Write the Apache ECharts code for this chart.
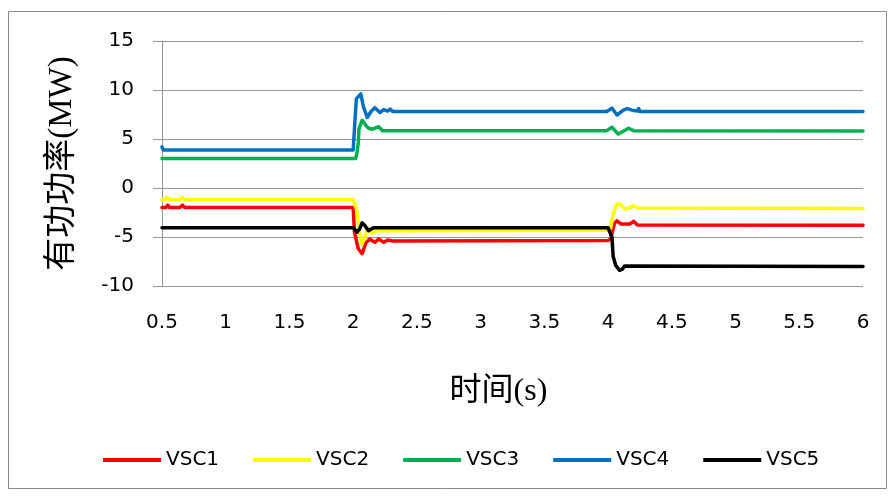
<!DOCTYPE html>
<html>
<head>
<meta charset="utf-8">
<script src="https://cdn.jsdelivr.net/npm/echarts@6/dist/echarts.min.js"></script>
<style>
  html, body { margin: 0; padding: 0; background: #fff; }
  #chart { width: 895px; height: 496px; }
</style>
</head>
<body>
<div id="chart"></div>
<script>
// Active power of five converter stations, [time (s), power (MW)]
const seriesNames = ['VSC1', 'VSC2', 'VSC3', 'VSC4', 'VSC5'];
const seriesColors = ['#FF0000', '#FFFF00', '#00B050', '#0070C0', '#000000'];

const vsc1 = [
  [0.5, -2.0], [0.53, -2.0], [0.545, -1.75], [0.56, -2.0], [0.64, -2.0], [0.66, -1.75], [0.68, -2.0],
  [2.0, -2.0], [2.01, -4.5], [2.04, -6.2], [2.07, -6.7], [2.1, -5.6], [2.13, -5.2],
  [2.17, -5.55], [2.2, -5.2], [2.24, -5.55], [2.27, -5.3], [2.31, -5.4],
  [4.0, -5.35], [4.02, -5.2], [4.05, -3.6], [4.07, -3.35], [4.1, -3.67], [4.17, -3.67],
  [4.2, -3.4], [4.23, -3.78], [6.0, -3.8]
];
const vsc2 = [
  [0.5, -1.2], [0.525, -1.2], [0.54, -0.95], [0.56, -1.2], [0.64, -1.2], [0.66, -0.95], [0.68, -1.2],
  [2.0, -1.2], [2.01, -1.3], [2.03, -2.3], [2.05, -4.6], [2.07, -5.7], [2.09, -5.0],
  [2.11, -4.35], [2.15, -4.6], [2.18, -4.35], [4.0, -4.3], [4.02, -4.1], [4.04, -2.65],
  [4.07, -1.63], [4.1, -1.7], [4.13, -2.15], [4.17, -2.0], [4.2, -1.8], [4.23, -2.05], [6.0, -2.08]
];
const vsc3 = [
  [0.5, 3.0], [2.02, 3.0], [2.03, 3.6], [2.04, 4.6], [2.045, 6.0], [2.07, 6.9],
  [2.1, 6.4], [2.12, 6.1], [2.15, 6.0], [2.2, 6.25], [2.23, 5.85], [3.99, 5.85],
  [4.03, 6.2], [4.08, 5.5], [4.12, 5.8], [4.16, 6.1], [4.2, 5.85], [6.0, 5.82]
];
const vsc4 = [
  [0.5, 4.2], [0.51, 3.88], [2.0, 3.88], [2.005, 5.0], [2.02, 5.0], [2.025, 9.1],
  [2.06, 9.6], [2.08, 8.3], [2.11, 7.2], [2.14, 7.8], [2.17, 8.2], [2.21, 7.7],
  [2.24, 8.0], [2.27, 7.85], [2.29, 8.05], [2.31, 7.8], [3.99, 7.8], [4.03, 8.15],
  [4.07, 7.45], [4.12, 7.95], [4.15, 8.1], [4.2, 7.9], [4.23, 7.85], [4.24, 8.1],
  [4.25, 7.8], [6.0, 7.8]
];
const vsc5 = [
  [0.5, -4.05], [2.0, -4.05], [2.03, -4.5], [2.05, -4.2], [2.07, -3.55], [2.09, -3.8],
  [2.12, -4.35], [2.16, -4.05], [4.0, -4.05], [4.01, -4.4], [4.03, -5.0], [4.04, -7.0],
  [4.06, -7.9], [4.09, -8.4], [4.11, -8.3], [4.13, -7.95], [6.0, -8.0]
];
const seriesData = [vsc1, vsc2, vsc3, vsc4, vsc5];

// Axis ranges
const xMin = 0.5, xMax = 6, xStep = 0.5;
const yMin = -10, yMax = 15, yStep = 5;

const labelFont = "'DejaVu Sans', sans-serif";
const titleFont = "'Liberation Serif', 'Noto Sans CJK SC', serif";
const gridGray = '#979797';

const chart = echarts.init(document.getElementById('chart'), null, { renderer: 'canvas' });

chart.setOption({
  animation: false,
  backgroundColor: '#ffffff',
  grid: { left: 162, right: 32, top: 41, bottom: 210, containLabel: false },
  xAxis: {
    type: 'value',
    min: xMin, max: xMax, interval: xStep,
    name: '时间(s)',
    nameLocation: 'middle',
    nameGap: 90,
    nameTextStyle: { fontFamily: titleFont, fontSize: 32, color: '#000', padding: [0, 28, 0, 0] },
    axisLine: { show: true, lineStyle: { color: gridGray, width: 1 } },
    axisTick: { show: false },
    splitLine: { show: false },
    axisLabel: { fontFamily: labelFont, fontSize: 20, color: '#000', margin: 27 }
  },
  yAxis: {
    type: 'value',
    min: yMin, max: yMax, interval: yStep,
    name: '有功功率(MW)',
    nameLocation: 'middle',
    nameGap: 83,
    nameTextStyle: { fontFamily: titleFont, fontSize: 33, color: '#000' },
    axisLine: { show: true, lineStyle: { color: gridGray, width: 1 } },
    axisTick: { show: true, inside: false, length: 9, lineStyle: { color: gridGray, width: 1 } },
    splitLine: { show: true, lineStyle: { color: gridGray, width: 1 } },
    axisLabel: { fontFamily: labelFont, fontSize: 20, color: '#000', margin: 28 }
  },
  legend: {
    left: 98,
    top: 445,
    itemWidth: 58,
    itemHeight: 20,
    itemGap: 34,
    icon: 'path://M0,0 L58,0 L58,4 L0,4 Z',
    textStyle: { fontFamily: labelFont, fontSize: 20, color: '#000', padding: [0, 0, 0, 0] },
    data: seriesNames
  },
  graphic: [{
    type: 'rect',
    shape: { x: 8.5, y: 11.5, width: 878, height: 477 },
    style: { fill: 'none', stroke: '#8a8a8a', lineWidth: 1 },
    silent: true
  }],
  series: seriesNames.map((name, i) => ({
    name: name,
    type: 'line',
    data: seriesData[i],
    symbol: 'none',
    color: seriesColors[i],
    lineStyle: { color: seriesColors[i], width: 3.5, join: 'round', cap: 'round' },
    emphasis: { disabled: true }
  }))
});
</script>
</body>
</html>
